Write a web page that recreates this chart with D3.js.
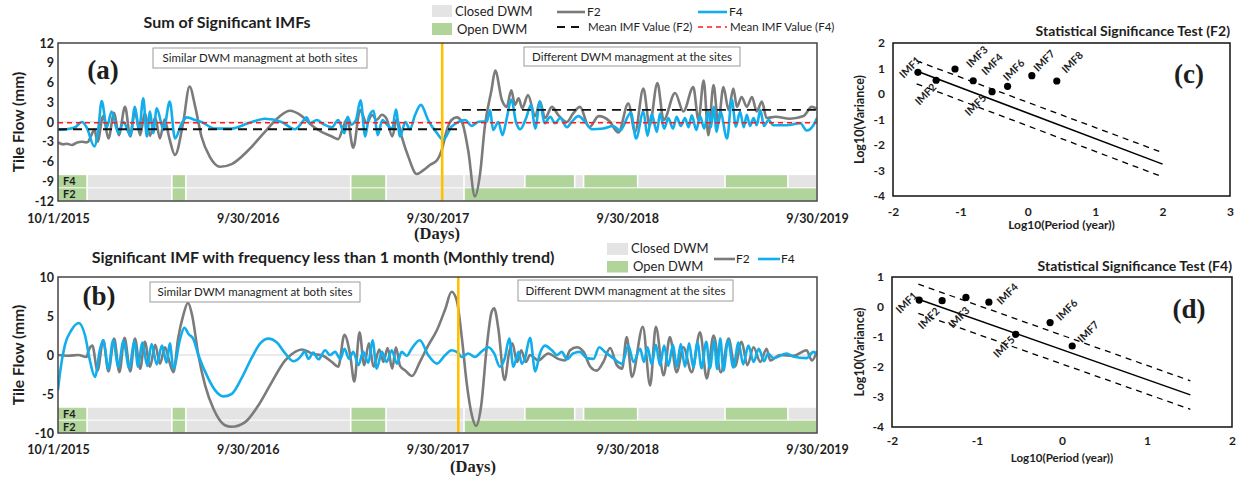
<!DOCTYPE html>
<html><head><meta charset="utf-8">
<script src="https://cdn.jsdelivr.net/npm/d3@7"></script>
<style>
body{margin:0;background:#fff;}
svg{display:block;font-family:Lato,"Open Sans",sans-serif;}
</style></head><body>
<svg id="chart" width="1247" height="479"></svg>
<script>
// ---------- DATA ----------
// x values are days since 10/1/2015
const xTickDays = [0, 365, 730, 1095, 1460];
const xTickLabels = ["10/1/2015", "9/30/2016", "9/30/2017", "9/30/2018", "9/30/2019"];
const aYTicks = [12, 9, 6, 3, 0, -3, -6, -9, -12];
const bYTicks = [10, 5, 0, -5, -10];

const aF2 = [[0,-3.1],[10,-3.4],[17,-3.3],[27,-3.5],[37,-3.1],[46,-3.0],[54,-3.1],[58,-3.0],[63,-2.2],[70,-1.2],[76,-3.0],[87,0.9],[97,-2.5],[108,1.4],[117,-2.0],[129,2.3],[139,-2.2],[148,1.6],[158,-2.0],[167,1.4],[177,-2.1],[187,0.7],[196,-2.5],[205,0.4],[214,-2.4],[225,-5.0],[241,0],[253,5.4],[264,2.3],[276,-2.2],[292,-5.3],[312,-6.8],[334,-6.4],[366,-4.3],[398,-1.5],[424,0.7],[446,1.7],[469,0.9],[488,-0.5],[507,-1.5],[527,-2.2],[539,-2.6],[549,-0.7],[556,0.5],[568,-3.9],[581,1.8],[594,-0.2],[604,1.1],[613,0.3],[623,1.1],[632,0.5],[643,-2.2],[652,0.5],[661,-2.2],[674,-5.3],[690,-7.9],[703,-7.3],[716,-6.5],[729,-5.8],[738,-4.3],[748,-1.2],[757,0.3],[767,0.7],[777,0],[789,-4.3],[802,-11.3],[812,-7.8],[821,-0.7],[834,4.9],[841,7.8],[854,3.3],[863,2.3],[872,4.8],[879,2.6],[886,3.6],[893,2.1],[904,4.1],[918,0.9],[927,3.1],[937,0.6],[950,2.3],[962,1.1],[979,0],[991,1.3],[1004,2.3],[1022,-0.8],[1040,0.9],[1060,0.2],[1078,-1.6],[1097,2.8],[1110,-1.5],[1126,5.1],[1138,-0.5],[1153,5.9],[1165,0.3],[1187,4.4],[1203,1.6],[1222,5.3],[1232,0.3],[1242,6.3],[1251,-2.0],[1261,5.6],[1270,-0.2],[1280,5.3],[1290,1.8],[1299,5.1],[1306,2.3],[1315,3.8],[1325,2.3],[1335,3.8],[1344,1.6],[1354,3.1],[1363,0.6],[1380,0.8],[1408,0.5],[1434,0.9],[1450,2.3],[1460,2.0]];

const aF4 = [[0,-1.2],[17,-1.1],[33,-0.8],[46,0],[55,-0.8],[70,-3.7],[78,-0.7],[84,3.2],[94,-0.8],[103,1.6],[116,-1.7],[126,0],[139,-2.0],[148,2.3],[156,-1.2],[164,3.6],[171,-2.2],[177,1.6],[183,-1.7],[190,2.1],[203,-1.2],[215,3.1],[225,-2.5],[238,-0.2],[248,0.7],[264,0.3],[276,0],[302,-1.0],[334,-1.0],[366,-0.2],[398,0.5],[430,0],[456,-1.1],[472,0.2],[478,0.7],[485,-0.2],[498,0.3],[510,-0.3],[527,-0.8],[539,0.3],[551,-1.7],[557,0.8],[564,-0.4],[573,0.3],[582,3.3],[591,-2.2],[598,0.8],[607,1.7],[615,-2.0],[624,0.3],[634,-0.5],[643,-1.0],[650,1.9],[658,-2.2],[668,0],[677,-1.1],[687,1.1],[698,2.6],[712,0.3],[729,-1.7],[741,-2.7],[757,-0.7],[770,0],[783,0.3],[796,-0.6],[809,0.05],[825,0.1],[831,1.8],[837,-1.2],[847,0],[855,-2.0],[863,0.5],[872,3.4],[881,0],[889,-1.1],[900,0.5],[910,2.6],[918,-1.0],[927,3.1],[936,-0.2],[947,0.8],[956,-0.2],[966,0.6],[979,-0.8],[988,0],[1001,0.9],[1014,0],[1027,-1.1],[1049,-1.0],[1068,-0.6],[1081,-1.3],[1102,1.4],[1112,-2.5],[1126,1.6],[1134,-2.1],[1142,1.2],[1152,-1.5],[1158,1.3],[1166,-1.0],[1174,0.6],[1183,-1.0],[1190,0.8],[1198,-0.6],[1206,0.6],[1213,-0.8],[1219,1.0],[1228,-1.2],[1235,0.9],[1243,-1.0],[1251,1.6],[1256,-0.8],[1261,2.3],[1267,-1.5],[1274,1.6],[1287,-2.5],[1296,3.4],[1304,-0.7],[1312,1.6],[1319,-0.8],[1325,1.1],[1331,-0.6],[1338,0.6],[1344,-0.5],[1351,1.8],[1358,-0.6],[1367,0.3],[1376,-0.5],[1402,-0.5],[1428,-0.2],[1440,-1.3],[1453,-0.5],[1460,0.6]];

// mean IMF values: [startDay, endDay, value]
const aMeanF2 = [[0,777,-1.1],[777,1460,1.85]];
const aMeanF4 = [[0,1460,-0.1]];

const bF2 = [[0,0],[20,-0.1],[39,0],[55,-0.25],[58,0.4],[66,1.2],[76,-2.0],[87,1.9],[97,-2.1],[108,2.1],[118,-2.2],[128,2.2],[139,-2.1],[148,2.1],[158,-1.75],[167,1.7],[177,-1.5],[187,1.3],[196,-1.1],[206,1.0],[214,-0.8],[222,-2.2],[231,2.1],[241,5.1],[250,6.7],[258,5.1],[270,0],[283,-3.9],[299,-6.9],[321,-9.0],[334,-9.2],[360,-8.6],[385,-6.5],[411,-3.5],[437,-0.7],[456,0.4],[469,0.7],[482,0.4],[488,0.2],[510,-0.1],[527,-0.9],[539,-1.5],[551,2.6],[562,0],[570,-3.4],[580,2.9],[589,-1.3],[598,1.5],[607,-1.5],[618,0.7],[626,-0.9],[634,0.9],[643,-1.75],[650,1.0],[658,-1.4],[668,-2.0],[681,-2.7],[696,-0.9],[712,1.2],[729,3.2],[745,5.9],[757,8.1],[767,7.0],[777,2.1],[786,-3.5],[796,-7.7],[804,-9.1],[814,-6.5],[825,1.2],[834,5.5],[839,6.0],[847,3.4],[859,-3.2],[868,0.4],[874,1.5],[883,-0.9],[891,0.6],[900,-0.9],[908,0],[924,-0.7],[943,0.2],[962,-0.5],[975,-0.7],[985,0.6],[998,1.0],[1011,0.4],[1024,-1.5],[1036,-2.0],[1049,-0.9],[1062,0.9],[1075,-1.3],[1085,-1.75],[1094,2.3],[1104,-2.8],[1125,3.6],[1139,-3.9],[1150,3.6],[1165,-2.6],[1177,2.3],[1190,-2.2],[1203,1.0],[1219,-2.2],[1235,2.9],[1248,-3.0],[1261,2.5],[1275,-2.2],[1290,2.1],[1302,-1.5],[1315,1.7],[1326,-1.3],[1338,1.0],[1351,-0.9],[1363,0.8],[1370,-0.7],[1389,0],[1414,-0.1],[1440,0.6],[1450,-0.7],[1460,0.5]];

const bF4 = [[0,-4.5],[4,-2.2],[13,1.2],[26,3.2],[40,4.1],[52,2.5],[62,-0.9],[71,-2.8],[81,0.8],[87,1.9],[97,-1.75],[106,1.9],[116,-1.5],[126,1.8],[137,-1.7],[147,1.7],[154,-1.5],[162,1.6],[172,-1.4],[180,1.4],[190,-1.2],[200,1.2],[209,-1.0],[215,1.5],[222,-1.75],[235,2.1],[243,3.5],[251,2.7],[260,2.1],[270,0],[289,-3.0],[302,-4.5],[318,-5.3],[334,-5.0],[353,-3.0],[373,-0.3],[389,1.5],[405,2.1],[421,1.6],[437,0.2],[453,-0.8],[469,0],[474,0.5],[482,-0.5],[491,0.3],[501,-0.55],[514,0.6],[523,0],[533,0.4],[543,-0.5],[551,0.8],[560,-0.5],[568,0.4],[578,-1.3],[587,0.4],[597,-1.0],[605,1.9],[613,-1.75],[623,0.4],[632,-0.9],[642,0.6],[652,-1.1],[661,0.4],[671,-0.1],[681,0.9],[696,1.9],[712,0],[729,-1.1],[745,0],[757,0.6],[769,0.3],[777,-0.25],[789,0.2],[802,-0.25],[814,0.4],[828,1.0],[839,0.2],[850,-1.5],[859,-0.5],[868,2.1],[876,-1.5],[886,0.4],[892,-1.1],[898,-0.5],[908,2.2],[918,-2.1],[927,0.2],[937,1.2],[950,0.6],[960,0],[969,0.4],[979,-0.55],[991,0.2],[1004,0.4],[1017,-0.4],[1030,-0.5],[1041,1.0],[1052,0.4],[1068,-0.4],[1085,-1.1],[1097,1.2],[1107,-0.9],[1120,0.8],[1127,-0.9],[1134,1.0],[1142,-1.2],[1150,1.3],[1158,-1.3],[1166,1.2],[1174,-1.4],[1183,1.3],[1190,-1.5],[1198,1.4],[1206,-1.5],[1214,1.5],[1222,-1.6],[1230,1.6],[1238,-1.7],[1247,1.7],[1254,-1.7],[1262,1.8],[1268,-1.8],[1274,2.1],[1280,-2.0],[1289,1.9],[1299,-1.6],[1309,1.6],[1318,-1.2],[1328,1.2],[1338,-0.9],[1348,0.8],[1358,-0.8],[1366,0.2],[1376,-0.4],[1402,0.2],[1414,-0.2],[1440,-0.4],[1453,0.4],[1460,0]];

// DWM status periods: [startDay, endDay, "open"/"closed"]
const dwmF4 = [[0,56,"open"],[56,219,"closed"],[219,246,"open"],[246,563,"closed"],[563,631,"open"],[631,781,"closed"],[781,898,"closed"],[898,994,"open"],[994,1011,"closed"],[1011,1115,"open"],[1115,1283,"closed"],[1283,1404,"open"],[1404,1460,"closed"]];
const dwmF2 = [[0,56,"open"],[56,219,"closed"],[219,246,"open"],[246,563,"closed"],[563,631,"open"],[631,781,"closed"],[781,1460,"open"]];

const aOrangeDay = 739;
const bOrangeDay = 770;

const titleA = "Sum of Significant IMFs";
const titleB = "Significant IMF with frequency less than 1 month (Monthly trend)";
const noteLeft = "Similar DWM managment at both sites";
const noteRight = "Different DWM managment at the sites";

// Statistical significance tests
const cLabels = ["IMF1","IMF2","IMF3","IMF4","IMF5","IMF6","IMF7","IMF8"];
const cX = [-1.63,-1.36,-1.08,-0.81,-0.53,-0.30,0.06,0.43];
const cY = [0.85,0.54,0.98,0.52,0.09,0.30,0.72,0.51];
const cLine = [[-1.65,0.9],[2.0,-2.75]];
const cUpper = [[-1.65,1.3],[1.95,-2.25]];
const cLower = [[-1.65,0.4],[1.95,-3.2]];
const cXTicks = [-2,-1,0,1,2,3];
const cYTicks = [2,1,0,-1,-2,-3,-4];

const dLabels = ["IMF1","IMF2","IMF3","IMF4","IMF5","IMF6","IMF7"];
const dX = [-1.68,-1.41,-1.13,-0.86,-0.545,-0.14,0.12];
const dY = [0.23,0.21,0.32,0.16,-0.91,-0.52,-1.3];
const dLine = [[-1.68,0.25],[1.51,-2.93]];
const dUpper = [[-1.69,0.76],[1.51,-2.46]];
const dLower = [[-1.69,-0.21],[1.51,-3.41]];
const dXTicks = [-2,-1,0,1,2];
const dYTicks = [1,0,-1,-2,-3,-4];

// ---------- STYLE / LAYOUT ----------
const C = {
  gray:"#7b7b7b", blue:"#12adeb", orange:"#ffc000", closed:"#e4e4e4", open:"#b0d49a",
  text:"#1e1e1e", frame:"#444", zero:"#d6d6d6"
};
const fmt = d => String(d);
const svg = d3.select("#chart");
const x = d3.scaleLinear().domain([0,1460]).range([58,817]);

function txt(g, xp, yp, s, size, weight, anchor, fam){
  return g.append("text").attr("x",xp).attr("y",yp).text(s)
    .attr("font-size",size).attr("font-weight",weight||"normal")
    .attr("text-anchor",anchor||"start").attr("fill",C.text)
    .attr("font-family",fam||null);
}

function timePanel(o){
  const g = svg.append("g");
  const y = d3.scaleLinear().domain(o.yDomain).range([o.bottom,o.top]);
  const clip = "clip-"+o.id;
  svg.append("clipPath").attr("id",clip).append("rect")
    .attr("x",x(0)).attr("y",o.top).attr("width",x(1460)-x(0)).attr("height",o.bottom-o.top);

  // DWM bars
  [[dwmF4,o.rowF4],[dwmF2,o.rowF2]].forEach(([segs,row])=>{
    g.append("g").selectAll("rect").data(segs).join("rect")
      .attr("x",d=>x(d[0])+ (d[0]>0?0.8:0))
      .attr("width",d=>Math.max(0,x(d[1])-x(d[0])-(d[0]>0?1.6:0.8)))
      .attr("y",y(row[0])+0.5).attr("height",y(row[1])-y(row[0])-1)
      .attr("fill",d=>d[2]==="open"?C.open:C.closed);
  });
  txt(g, x(0)+5, (y(o.rowF4[0])+y(o.rowF4[1]))/2+4, "F4", 11, "bold");
  txt(g, x(0)+5, (y(o.rowF2[0])+y(o.rowF2[1]))/2+4, "F2", 11, "bold");

  // zero line
  g.append("line").attr("x1",x(0)).attr("x2",x(1460)).attr("y1",y(0)).attr("y2",y(0))
    .attr("stroke",C.zero).attr("stroke-width",1);

  const line = d3.line().x(d=>x(d[0])).y(d=>y(d[1])).curve(d3.curveMonotoneX);
  const sg = g.append("g").attr("clip-path",`url(#${clip})`);
  sg.append("path").datum(o.f2).attr("d",line).attr("fill","none")
    .attr("stroke",C.gray).attr("stroke-width",2.6).attr("stroke-linejoin","round");
  sg.append("path").datum(o.f4).attr("d",line).attr("fill","none")
    .attr("stroke",C.blue).attr("stroke-width",2.6).attr("stroke-linejoin","round");

  if(o.meanF2){
    sg.selectAll(".m2").data(o.meanF2).join("line")
      .attr("x1",d=>x(d[0])).attr("x2",d=>x(d[1])).attr("y1",d=>y(d[2])).attr("y2",d=>y(d[2]))
      .attr("stroke","#111").attr("stroke-width",1.8).attr("stroke-dasharray","9,6");
    sg.selectAll(".m4").data(o.meanF4).join("line")
      .attr("x1",d=>x(d[0])).attr("x2",d=>x(d[1])).attr("y1",d=>y(d[2])).attr("y2",d=>y(d[2]))
      .attr("stroke","#ff1a1a").attr("stroke-width",1.5).attr("stroke-dasharray","5,4");
  }

  // orange marker
  g.append("line").attr("x1",x(o.orange)).attr("x2",x(o.orange)).attr("y1",o.top).attr("y2",o.bottom)
    .attr("stroke",C.orange).attr("stroke-width",2.6);

  // frame
  g.append("rect").attr("x",x(0)).attr("y",o.top).attr("width",x(1460)-x(0)).attr("height",o.bottom-o.top)
    .attr("fill","none").attr("stroke",C.frame).attr("stroke-width",1.5);

  // axes
  const ya = g.append("g").attr("transform",`translate(${x(0)},0)`)
    .call(d3.axisLeft(y).tickValues(o.yTicks).tickFormat(fmt).tickSize(0).tickPadding(4));
  ya.select(".domain").remove();
  ya.selectAll("text").attr("font-size",12.5).attr("font-weight","bold").attr("fill",C.text).attr("font-family","Lato");
  const xa = g.append("g").attr("transform",`translate(0,${o.bottom})`)
    .call(d3.axisBottom(x).tickValues(xTickDays).tickFormat((d,i)=>xTickLabels[i]).tickSize(0).tickPadding(o.xPad));
  xa.select(".domain").remove();
  xa.selectAll("text").attr("font-size",12.5).attr("font-weight","bold").attr("fill",C.text).attr("font-family","Lato");

  // axis titles
  const yt = (o.top+o.bottom)/2;
  g.append("text").attr("transform",`translate(24,${yt}) rotate(-90)`).attr("text-anchor","middle")
    .attr("font-size",15.5).attr("font-weight","bold").attr("fill",C.text).text("Tile Flow (mm)");
  txt(g, o.daysX, o.daysY, "(Days)", 16.5, "bold", "middle", "Liberation Serif");
  txt(g, o.titleX, o.titleY, o.title, 16, "bold", "middle");
  txt(g, o.tagX, o.tagY, o.tag, 27, "bold", "middle", "Liberation Serif");

  // notes
  o.notes.forEach(n=>{
    g.append("rect").attr("x",n.x).attr("y",n.y).attr("width",n.w).attr("height",n.h)
      .attr("fill","#fff").attr("stroke","#9a9a9a").attr("stroke-width",1);
    txt(g, n.x+n.w/2, n.y+n.h/2+4, n.t, 11.5, "normal", "middle");
  });
  return g;
}

// Panel (a)
timePanel({id:"a", yDomain:[-12,12], top:43, bottom:201, f2:aF2, f4:aF4,
  meanF2:aMeanF2, meanF4:aMeanF4, rowF4:[-8,-10], rowF2:[-10,-12], orange:aOrangeDay,
  yTicks:aYTicks, xPad:13, daysX:437, daysY:239, title:titleA, titleX:227, titleY:28,
  tag:"(a)", tagX:103, tagY:79,
  notes:[{x:153,y:48,w:214,h:20,t:noteLeft},{x:524,y:47,w:216,h:19,t:noteRight}]});

// Panel (b)
timePanel({id:"b", yDomain:[-10,10], top:277, bottom:433, f2:bF2, f4:bF4,
  rowF4:[-6.7,-8.35], rowF2:[-8.35,-10], orange:bOrangeDay,
  yTicks:bYTicks, xPad:12.5, daysX:473, daysY:472, title:titleB, titleX:323, titleY:263,
  tag:"(b)", tagX:99, tagY:305,
  notes:[{x:150,y:282,w:210,h:20,t:noteLeft},{x:518,y:280,w:215,h:21,t:noteRight}]});

// Legends
function legendA(){
  const g = svg.append("g");
  g.append("rect").attr("x",432).attr("y",5).attr("width",20).attr("height",12).attr("fill",C.closed);
  g.append("rect").attr("x",432).attr("y",23).attr("width",20).attr("height",12).attr("fill",C.open);
  txt(g,455,15.5,"Closed DWM",13);
  txt(g,457,33.5,"Open DWM",13);
  g.append("line").attr("x1",557).attr("x2",585).attr("y1",12).attr("y2",12).attr("stroke",C.gray).attr("stroke-width",2.6);
  txt(g,587,16,"F2",12);
  g.append("line").attr("x1",698).attr("x2",727).attr("y1",12).attr("y2",12).attr("stroke",C.blue).attr("stroke-width",2.6);
  txt(g,729,16,"F4",12);
  g.append("line").attr("x1",557).attr("x2",585).attr("y1",27).attr("y2",27).attr("stroke","#111").attr("stroke-width",1.8).attr("stroke-dasharray","8,6");
  txt(g,588,31,"Mean IMF Value (F2)",11.5);
  g.append("line").attr("x1",698).attr("x2",727).attr("y1",27).attr("y2",27).attr("stroke","#ff1a1a").attr("stroke-width",1.5).attr("stroke-dasharray","5,4");
  txt(g,730,31,"Mean IMF Value (F4)",11.5);
}
function legendB(){
  const g = svg.append("g");
  g.append("rect").attr("x",607).attr("y",243).attr("width",21).attr("height",12).attr("fill",C.closed);
  g.append("rect").attr("x",607).attr("y",261).attr("width",21).attr("height",11.5).attr("fill",C.open);
  txt(g,631,253,"Closed DWM",13);
  txt(g,633,270.5,"Open DWM",13);
  g.append("line").attr("x1",714).attr("x2",735).attr("y1",259).attr("y2",259).attr("stroke",C.gray).attr("stroke-width",2.6);
  txt(g,736,263,"F2",12);
  g.append("line").attr("x1",758).attr("x2",780).attr("y1",259).attr("y2",259).attr("stroke",C.blue).attr("stroke-width",2.6);
  txt(g,781,263,"F4",12);
}
legendA(); legendB();

// Significance panels
function sigPanel(o){
  const g = svg.append("g");
  const xs = d3.scaleLinear().domain(o.xDomain).range([o.left,o.right]);
  const ys = d3.scaleLinear().domain(o.yDomain).range([o.bottom,o.top]);
  const ln = d3.line().x(d=>xs(d[0])).y(d=>ys(d[1]));
  g.append("path").datum(o.line).attr("d",ln).attr("stroke","#000").attr("stroke-width",1.5).attr("fill","none");
  [o.upper,o.lower].forEach(l=>g.append("path").datum(l).attr("d",ln).attr("stroke","#000")
    .attr("stroke-width",1.3).attr("stroke-dasharray","6,5").attr("fill","none"));
  const pts = o.xs.map((v,i)=>({x:v,y:o.ys[i],l:o.labels[i],off:o.offs[i]}));
  g.selectAll("circle").data(pts).join("circle").attr("cx",d=>xs(d.x)).attr("cy",d=>ys(d.y)).attr("r",3.6).attr("fill","#000");
  g.selectAll(".lab").data(pts).join("text")
    .attr("transform",d=>`translate(${xs(d.x)+d.off[0]},${ys(d.y)+d.off[1]}) rotate(-45)`)
    .attr("text-anchor","middle").attr("dy","0.35em").attr("font-size",10.5).attr("font-weight","bold")
    .attr("fill",C.text).text(d=>d.l);
  g.append("rect").attr("x",o.left).attr("y",o.top).attr("width",o.right-o.left).attr("height",o.bottom-o.top)
    .attr("fill","none").attr("stroke","#111").attr("stroke-width",1.5);
  const ya = g.append("g").attr("transform",`translate(${o.left},0)`)
    .call(d3.axisLeft(ys).tickValues(o.yTicks).tickFormat(fmt).tickSize(0).tickPadding(8));
  ya.select(".domain").remove();
  ya.selectAll("text").attr("font-size",12).attr("font-weight","bold").attr("fill",C.text).attr("font-family","Lato");
  const xa = g.append("g").attr("transform",`translate(0,${o.bottom})`)
    .call(d3.axisBottom(xs).tickValues(o.xTicks).tickFormat(fmt).tickSize(0).tickPadding(o.xPad));
  xa.select(".domain").remove();
  xa.selectAll("text").attr("font-size",12).attr("font-weight","bold").attr("fill",C.text).attr("font-family","Lato");
  txt(g,(o.left+o.right)/2,o.xTitleY,"Log10(Period (year))",o.xTitleSize,"bold","middle");
  g.append("text").attr("transform",`translate(864,${(o.top+o.bottom)/2}) rotate(-90)`).attr("text-anchor","middle")
    .attr("font-size",12.5).attr("font-weight","bold").attr("fill",C.text).text("Log10(Variance)");
  txt(g,o.right,o.titleY,o.title,14,"bold","end");
  txt(g,1189,o.tagY,o.tag,27,"bold","middle","Liberation Serif");
}

sigPanel({left:893,right:1230,top:43,bottom:196,xDomain:[-2,3],yDomain:[-4,2],
  xs:cX,ys:cY,labels:cLabels,line:cLine,upper:cUpper,lower:cLower,xTicks:cXTicks,yTicks:cYTicks,
  offs:[[-8,-5],[-10.5,14],[22,-12.3],[19,-16.5],[-16.5,13.3],[6.2,-16.3],[12.3,-14.9],[15.6,-18.7]],
  xPad:11.5, xTitleY:229, xTitleSize:12, titleY:36, title:"Statistical Significance Test (F2)", tag:"(c)", tagY:83});

sigPanel({left:892,right:1232,top:277,bottom:427,xDomain:[-2,2],yDomain:[-4,1],
  xs:dX,ys:dY,labels:dLabels,line:dLine,upper:dUpper,lower:dLower,xTicks:dXTicks,yTicks:dYTicks,
  offs:[[-12.6,2.5],[-13.3,17.6],[-7,20],[18.5,-8.3],[-11.7,12.4],[16.7,-12.7],[16,-14.3]],
  xPad:9.5, xTitleY:462, xTitleSize:11.5, titleY:271, title:"Statistical Significance Test (F4)", tag:"(d)", tagY:318});
</script>
</body></html>
